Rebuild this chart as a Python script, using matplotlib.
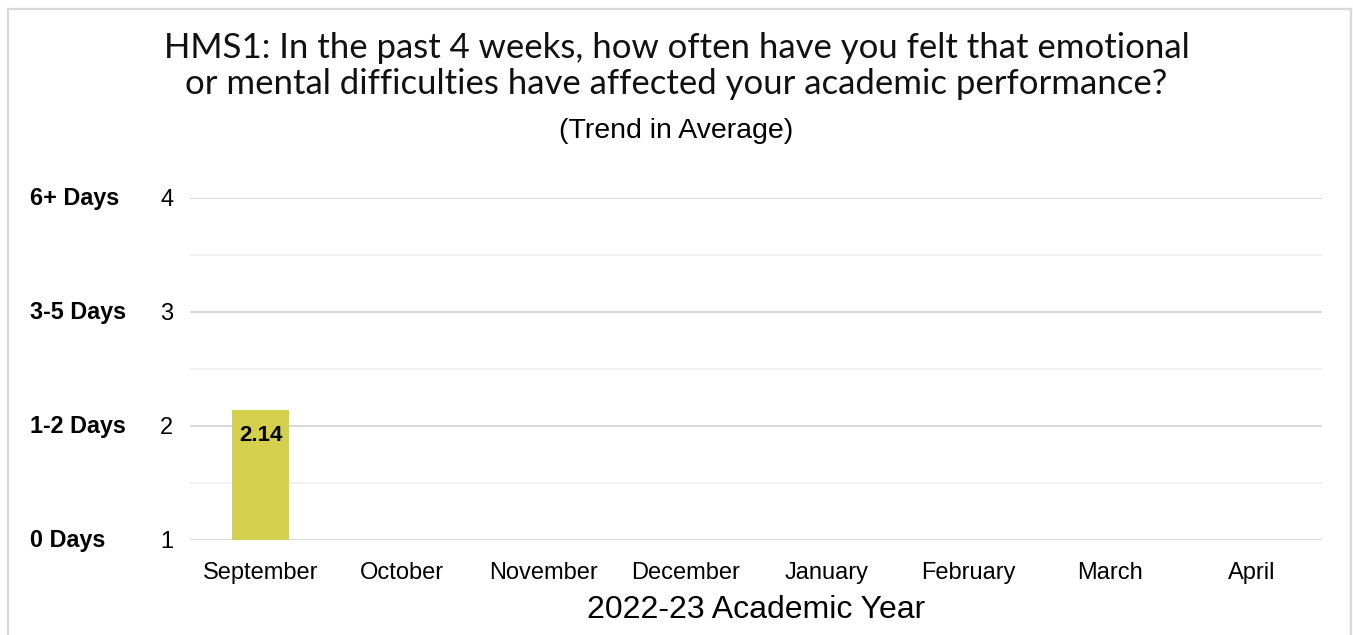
import numpy as np
import matplotlib
matplotlib.use("Agg")
import matplotlib.pyplot as plt
from matplotlib.transforms import blended_transform_factory
from matplotlib.lines import Line2D

months = ["September", "October", "November", "December",
          "January", "February", "March", "April"]
averages = [2.14, np.nan, np.nan, np.nan, np.nan, np.nan, np.nan, np.nan]
scale_ticks = [1, 2, 3, 4]
scale_labels = ["0 Days", "1-2 Days", "3-5 Days", "6+ Days"]

title = ("HMS1: In the past 4 weeks, how often have you felt that emotional\n"
         "or mental difficulties have affected your academic performance?")
subtitle = "(Trend in Average)"
xlabel = "2022-23 Academic Year"

W, H = 1353, 635
fig = plt.figure(figsize=(W / 100, H / 100), dpi=100)
fig.patch.set_facecolor("white")

def fx(px):
    return px / W

def fy(py):
    return 1 - py / H

ax = fig.add_axes([fx(190), fy(540), fx(1322) - fx(190), fy(198) - fy(540)])

x = np.arange(len(months))
ax.bar(x, averages, width=0.4, color="#D4CF4D", zorder=3)

ax.set_xlim(-0.5, len(months) - 0.5)
ax.set_ylim(1, 4)
ax.set_yticks(scale_ticks)
ax.set_yticks([1.5, 2.5, 3.5], minor=True)
ax.set_xticks(x)
ax.set_xticklabels(months, fontsize=17, family="Liberation Sans")
ax.set_yticklabels([str(t) for t in scale_ticks], fontsize=17,
                   family="Liberation Sans")
ax.tick_params(axis="both", which="both", length=0)
ax.tick_params(axis="y", pad=12)
ax.tick_params(axis="x", pad=16)

ax.grid(axis="y", which="major", color="#D9D9D9", linewidth=1.5, zorder=0)
ax.grid(axis="y", which="minor", color="#F0F0F0", linewidth=1.3, zorder=0)
for s in ax.spines.values():
    s.set_visible(False)

# value labels inside the top of each bar
for xi, v in zip(x, averages):
    if not np.isnan(v):
        ax.text(xi, v - 0.135, f"{v:.2f}", ha="center", va="top",
                fontsize=16, fontweight="bold", family="Liberation Sans",
                zorder=4)

# response-scale labels on the far left
trans = blended_transform_factory(fig.transFigure, ax.transData)
for t, lab in zip(scale_ticks, scale_labels):
    ax.text(fx(30), t, lab, transform=trans, ha="left", va="center",
            fontsize=16.8, fontweight="bold", family="Liberation Sans")

ax.set_xlabel(xlabel, fontsize=23, family="Liberation Sans", labelpad=8)

fig.text(0.5, fy(66), title, ha="center", va="center", fontsize=25,
         family="Lato", linespacing=1.12, color="#111111")
fig.text(0.5, fy(131), subtitle, ha="center", va="center", fontsize=20.5,
         family="Liberation Sans")

# chart frame
frame_color = "#D9D9D9"
fig.add_artist(Line2D([fx(8), fx(1351)], [fy(9), fy(9)], color=frame_color,
                      linewidth=1.6, transform=fig.transFigure))
fig.add_artist(Line2D([fx(8), fx(8)], [fy(9), 0], color=frame_color,
                      linewidth=1.6, transform=fig.transFigure))
fig.add_artist(Line2D([fx(1351), fx(1351)], [fy(9), 0], color=frame_color,
                      linewidth=1.6, transform=fig.transFigure))

fig.savefig("out.png", dpi=100, facecolor="white")
